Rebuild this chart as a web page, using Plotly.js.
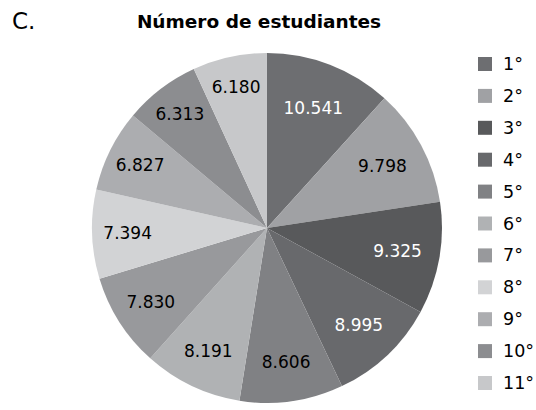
<!DOCTYPE html>
<html>
<head>
<meta charset="utf-8">
<script src="https://cdn.plot.ly/plotly-3.0.1.min.js"></script>
<style>html,body{margin:0;padding:0;background:#fff;}#chart{width:536px;height:410px;}</style>
</head>
<body>
<div id="chart"></div>
<script>
var categories = ['1°','2°','3°','4°','5°','6°','7°','8°','9°','10°','11°'];
var students = [10541, 9798, 9325, 8995, 8606, 8191, 7830, 7394, 6827, 6313, 6180];
var sliceColors = ['#6d6e71','#a0a1a4','#58595b','#68696c','#808184','#b0b2b4','#98999c','#d2d3d5','#acadb0','#8c8d90','#c7c8ca'];
var labelColors = ['#ffffff','#000000','#ffffff','#ffffff','#000000','#000000','#000000','#000000','#000000','#000000','#000000'];

var FONT = 'DejaVu Sans, Verdana, sans-serif';

var trace = {
  type: 'pie',
  labels: categories,
  values: students,
  sort: false,
  direction: 'clockwise',
  rotation: 0,
  marker: {colors: sliceColors, line: {width: 0}},
  texttemplate: '%{value:,}',
  textposition: 'inside',
  insidetextorientation: 'horizontal',
  textfont: {family: FONT, size: 17, color: labelColors},
  hoverinfo: 'none',
  showlegend: false,
  domain: {x: [0.1716, 0.8246], y: [0.017, 0.871]}
};

// Manual legend built from categories/colors
var shapes = [];
var annotations = [];
var W = 536, H = 410;
var x0 = 478, sq = 14, y0 = 64, step = 31.9;
categories.forEach(function(c, i) {
  var yc = y0 + i * step;
  shapes.push({type: 'rect', xref: 'paper', yref: 'paper',
    x0: x0 / W, x1: (x0 + sq) / W, y0: 1 - (yc + sq / 2) / H, y1: 1 - (yc - sq / 2) / H,
    fillcolor: sliceColors[i], line: {width: 0}});
  annotations.push({xref: 'paper', yref: 'paper', x: 501 / W, y: 1 - yc / H,
    xanchor: 'left', yanchor: 'middle', text: c, showarrow: false,
    font: {family: FONT, size: 17.5, color: '#000'}});
});
annotations.push({xref: 'paper', yref: 'paper', x: 10 / W, y: 1 - 21 / H,
  xanchor: 'left', yanchor: 'middle', text: 'C.', showarrow: false,
  font: {family: FONT, size: 23, color: '#000'}});

var layout = {
  width: 536, height: 410,
  margin: {l: 0, r: 0, t: 0, b: 0},
  paper_bgcolor: '#ffffff',
  separators: ',.',
  title: {text: '<b>Número de estudiantes</b>', x: 259 / W, xanchor: 'center', y: 1 - 22 / H, yanchor: 'middle',
    font: {family: FONT, size: 18.5, color: '#000'}},
  shapes: shapes,
  annotations: annotations,
  showlegend: false
};

Plotly.newPlot('chart', [trace], layout, {displayModeBar: false, staticPlot: true});
</script>
</body>
</html>
